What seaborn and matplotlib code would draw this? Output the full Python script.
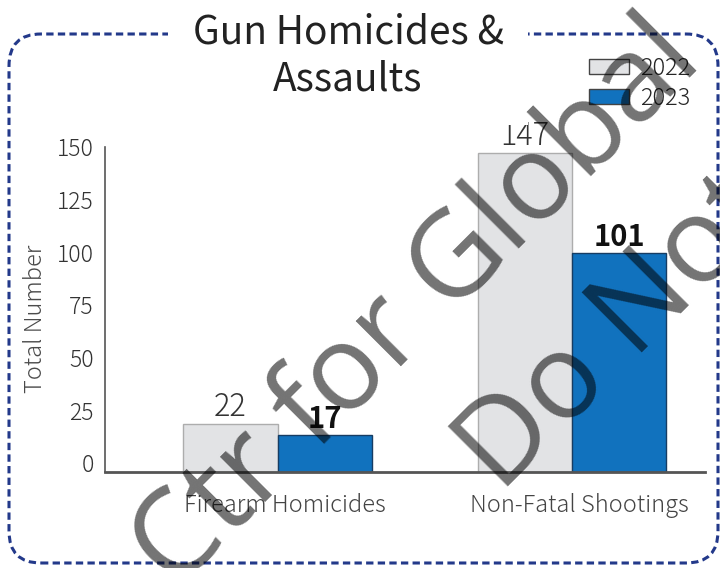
import matplotlib
matplotlib.use("Agg")
import matplotlib.pyplot as plt
import seaborn as sns
import pandas as pd
from matplotlib.patches import FancyBboxPatch, Patch
from matplotlib.transforms import IdentityTransform, ScaledTranslation

categories = ["Firearm Homicides", "Non-Fatal Shootings"]
years = ["2022", "2023"]
values_2022 = [22, 147]
values_2023 = [17, 101]
yticks = [0, 25, 50, 75, 100, 125, 150]
title = "Gun Homicides &\nAssaults"
ylabel = "Total Number"
watermark_1 = "Ctr for Global"
watermark_2 = "Do Not"

df = pd.DataFrame({
    "category": categories * 2,
    "year": [years[0]] * len(categories) + [years[1]] * len(categories),
    "value": values_2022 + values_2023,
})

sns.set_theme(style="white")
FONT = ["Noto Sans CJK JP", "DejaVu Sans"]
plt.rcParams["font.family"] = FONT
LIGHT = 300

W, H = 720, 568
fig = plt.figure(figsize=(W / 100, H / 100), dpi=100)
ax = fig.add_axes([105 / W, (H - 472) / H, 600 / W, 325 / H])

palette = {"2022": "#e2e3e5", "2023": "#1172be"}
edges = {"2022": "#adadad", "2023": "#173d63"}
sns.barplot(data=df, x="category", y="value", hue="year", order=categories,
            hue_order=years, palette=palette, width=0.64, gap=0, saturation=1,
            ax=ax, legend=False, linewidth=1.0)

for cont, yr in zip(ax.containers, years):
    for p in cont:
        p.set_edgecolor(edges[yr])
        p.set_linewidth(1.0)

ax.bar_label(ax.containers[0], labels=[str(v) for v in values_2022], padding=1,
             fontsize=22, fontweight=LIGHT, color="#333333")
ax.bar_label(ax.containers[1], labels=[str(v) for v in values_2023], padding=1,
             fontsize=21, fontweight="bold", color="#111111")

ax.set_xlim(-0.586, 1.452)
ax.set_ylim(0, 150)
ax.set_yticks(yticks)
ax.set_yticklabels([str(t) for t in yticks], fontsize=16.5, fontweight=LIGHT, color="#333333")
ax.set_xticks(range(len(categories)))
ax.set_xticklabels(categories, fontsize=17, fontweight=LIGHT, color="#444444")
ax.tick_params(axis="both", length=0)
ax.tick_params(axis="y", pad=8)
ax.tick_params(axis="x", pad=15)
ax.set_xlabel("")
ax.set_ylabel(ylabel, fontsize=17, fontweight=LIGHT, color="#4a4a4a")
ax.yaxis.set_label_coords(-0.095, 0.47)

ymax = yticks[-1]
for t, lab in zip(yticks, ax.get_yticklabels()):
    dy = 0.09 * (1 - t / ymax)
    lab.set_transform(lab.get_transform() + ScaledTranslation(0, dy, fig.dpi_scale_trans))
for lab in ax.get_xticklabels():
    lab.set_transform(lab.get_transform() + ScaledTranslation(0.07, 0, fig.dpi_scale_trans))

sns.despine(ax=ax)
ax.spines["left"].set_color("#555555")
ax.spines["left"].set_linewidth(1.2)
ax.spines["bottom"].set_color("#555555")
ax.spines["bottom"].set_linewidth(2)

handles = [Patch(facecolor=palette[y], edgecolor="#444444", linewidth=1.0) for y in years]
fig.legend(handles, years, loc="upper left", bbox_to_anchor=(589 / W, 1 - 56 / H),
           frameon=False, handlelength=1.7, handleheight=0.63,
           handletextpad=0.45, labelspacing=0.2, borderaxespad=0, borderpad=0,
           prop={"weight": LIGHT, "size": 17, "family": FONT})

# dashed rounded border
box = FancyBboxPatch((9, H - 563), 709, 529, boxstyle="round,pad=0,rounding_size=32",
                     transform=IdentityTransform(), fill=False, edgecolor="#23398a",
                     linewidth=2.2, linestyle=(0, (2.4, 1.4)), zorder=0)
fig.add_artist(box)

fig.text(348 / W, 1 - 56 / H, title, ha="center", va="center", fontsize=28,
         fontweight=400, color="#222222", linespacing=1.25, zorder=5,
         bbox=dict(facecolor="white", edgecolor="none", pad=18))

# watermark
WM = ["Open Sans", "DejaVu Sans"]
fig.text(418 / W, 1 - 306 / H, watermark_1, rotation=45, rotation_mode="anchor",
         ha="center", va="center", fontsize=86, family=WM,
         color="black", alpha=0.55, zorder=20)
fig.text(500 / W, 1 - 494 / H, watermark_2, rotation=45, rotation_mode="anchor",
         ha="left", va="baseline", fontsize=86, family=WM,
         color="black", alpha=0.55, zorder=20)

fig.savefig("out.png", dpi=100)
